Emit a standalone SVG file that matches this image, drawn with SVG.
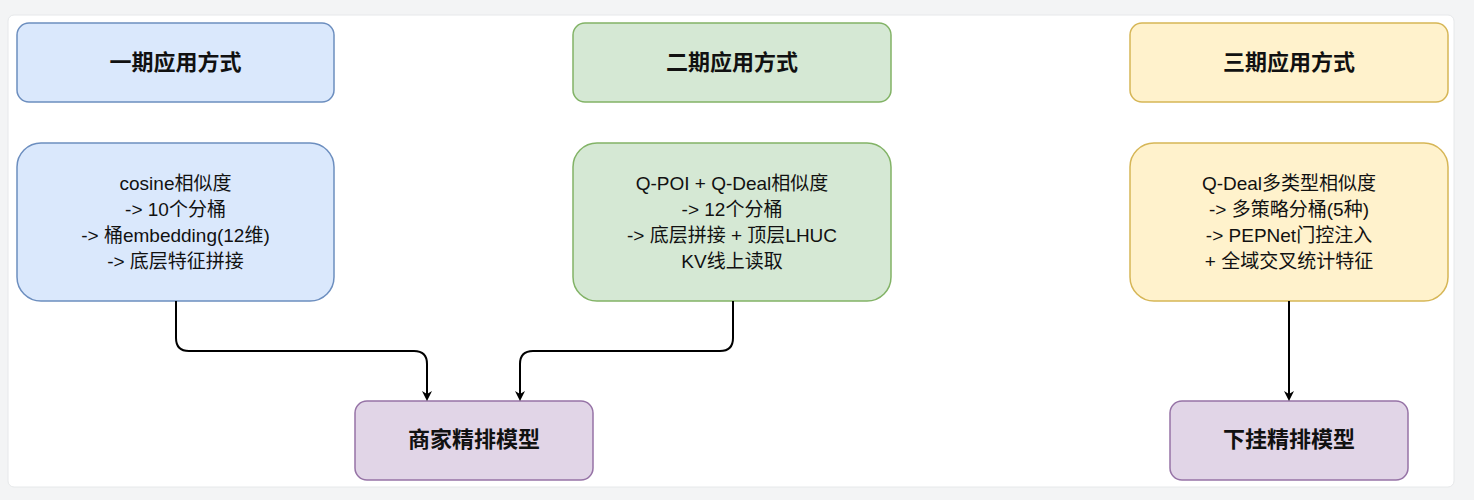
<svg xmlns="http://www.w3.org/2000/svg" width="1474" height="500" viewBox="0 0 1474 500">
<style>
text{font-family:"Liberation Sans","Noto Sans CJK SC",sans-serif;fill:#111;text-anchor:middle}
.h{font-size:22px;font-weight:bold}
.t{font-size:19px}
.b{fill:#dae8fc;stroke:#6c8ebf;stroke-width:1.5}
.g{fill:#d5e8d4;stroke:#82b366;stroke-width:1.5}
.y{fill:#fff2cc;stroke:#d6b656;stroke-width:1.5}
.p{fill:#e1d5e7;stroke:#9673a6;stroke-width:1.5}
.c{fill:none;stroke:#000;stroke-width:2}
</style>
<defs><marker id="a" markerWidth="10" markerHeight="10" refX="8" refY="5" orient="auto" markerUnits="userSpaceOnUse"><path d="M0,0 L10,5 L0,10 L3,5 Z" fill="#000"/></marker></defs>
<rect width="1474" height="500" fill="#f3f4f5"/>
<rect x="8" y="15" width="1446" height="472" rx="6" fill="#fff" stroke="#e6e8ea"/>
<g id="n1"><rect class="b" x="17" y="23" width="317" height="79" rx="12"/><text class="h" x="175.5" y="70">一期应用方式</text></g>
<g id="n2"><rect class="g" x="573" y="23" width="318" height="79" rx="12"/><text class="h" x="732" y="70">二期应用方式</text></g>
<g id="n3"><rect class="y" x="1130" y="23" width="318" height="79" rx="12"/><text class="h" x="1289" y="70">三期应用方式</text></g>
<g id="n4"><rect class="b" x="17" y="143" width="317" height="158" rx="24"/><text class="t" x="175.5" y="190">cosine相似度<tspan x="175.5" dy="26">-&gt; 10个分桶</tspan><tspan x="175.5" dy="26">-&gt; 桶embedding(12维)</tspan><tspan x="175.5" dy="26">-&gt; 底层特征拼接</tspan></text></g>
<g id="n5"><rect class="g" x="573" y="143" width="318" height="158" rx="24"/><text class="t" x="732" y="190">Q-POI + Q-Deal相似度<tspan x="732" dy="26">-&gt; 12个分桶</tspan><tspan x="732" dy="26">-&gt; 底层拼接 + 顶层LHUC</tspan><tspan x="732" dy="26">KV线上读取</tspan></text></g>
<g id="n6"><rect class="y" x="1130" y="143" width="318" height="158" rx="24"/><text class="t" x="1289" y="190">Q-Deal多类型相似度<tspan x="1289" dy="26">-&gt; 多策略分桶(5种)</tspan><tspan x="1289" dy="26">-&gt; PEPNet门控注入</tspan><tspan x="1289" dy="26">+ 全域交叉统计特征</tspan></text></g>
<g id="n7"><rect class="p" x="355" y="401" width="238" height="79" rx="12"/><text class="h" x="474" y="447">商家精排模型</text></g>
<g id="n8"><rect class="p" x="1170" y="401" width="238" height="79" rx="12"/><text class="h" x="1289" y="447">下挂精排模型</text></g>
<g id="connectors">
<path class="c" d="M176,301 V338 Q176,351 189,351 H414 Q427,351 427,364 V399" marker-end="url(#a)"/>
<path class="c" d="M733,301 V338 Q733,351 720,351 H533 Q520,351 520,364 V399" marker-end="url(#a)"/>
<path class="c" d="M1289,301 V399" marker-end="url(#a)"/>
</g>
</svg>
